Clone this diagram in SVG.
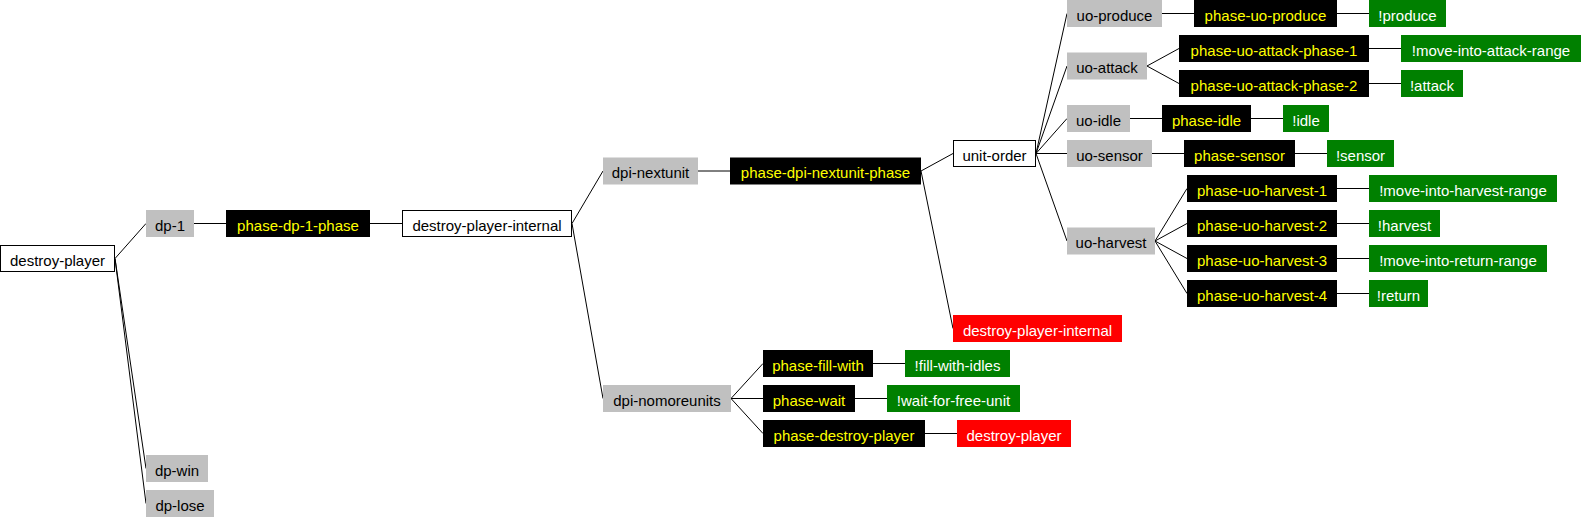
<svg xmlns="http://www.w3.org/2000/svg" width="1582" height="517" viewBox="0 0 1582 517">
<style>
text{font-family:"Liberation Sans",Arial,sans-serif;font-size:15px;text-anchor:middle}
.w rect{fill:#fff;stroke:#000;stroke-width:1}
.w text,.g text{fill:#000}
.g rect{fill:#c0c0c0}
.b rect{fill:#000}
.b text{fill:#ffff00}
.n rect{fill:#008000}
.n text,.r text{fill:#fff}
.r rect{fill:#ff0000}
#connectors path{stroke:#000;stroke-width:1;fill:none}
</style>
<rect width="1582" height="517" fill="#fff"/>
<g id="connectors">
<path d="M115,258.5L146,223.5M115,258.5L146,468.5M115,258.5L146,503.5"/>
<path d="M194,223.5H226M370,223.5H402"/>
<path d="M572,223.5L603,171M572,223.5L603,398.5"/>
<path d="M698,171H730"/>
<path d="M921,171L953,153.5M921,171L953,328.5"/>
<path d="M731,398.5L763,363.5M731,398.5H763M731,398.5L763,433.5"/>
<path d="M873,363.5H905M855,398.5H887M925,433.5H957"/>
<path d="M1036,153.5L1067,13.5M1036,153.5L1067,66M1036,153.5L1067,118.5M1036,153.5H1067M1036,153.5L1067,241"/>
<path d="M1162,13.5H1194M1337,13.5H1369"/>
<path d="M1147,66L1179,48.5M1147,66L1179,83.5M1369,48.5H1401M1369,83.5H1401"/>
<path d="M1130,118.5H1162M1251,118.5H1283"/>
<path d="M1152,153.5H1184M1295,153.5H1327"/>
<path d="M1155,241L1187,188.5M1155,241L1187,223.5M1155,241L1187,258.5M1155,241L1187,293.5"/>
<path d="M1337,188.5H1369M1337,223.5H1369M1337,258.5H1369M1337,293.5H1369"/>
</g>
<g id="n-destroy-player" class="w"><rect x="0.5" y="245.5" width="114" height="26"/><text x="57.5" y="265.5">destroy-player</text></g>
<g id="n-dp-1" class="g"><rect x="146" y="210" width="48" height="27"/><text x="170" y="230.5">dp-1</text></g>
<g id="n-dp-win" class="g"><rect x="146" y="455" width="62" height="27"/><text x="177" y="475.5">dp-win</text></g>
<g id="n-dp-lose" class="g"><rect x="146" y="490" width="68" height="27"/><text x="180" y="510.5">dp-lose</text></g>
<g id="n-phase-dp-1-phase" class="b"><rect x="226" y="210" width="144" height="27"/><text x="298" y="230.5">phase-dp-1-phase</text></g>
<g id="n-destroy-player-internal" class="w"><rect x="402.5" y="210.5" width="169" height="26"/><text x="487" y="230.5">destroy-player-internal</text></g>
<g id="n-dpi-nextunit" class="g"><rect x="603" y="157.5" width="95" height="27"/><text x="650.5" y="178">dpi-nextunit</text></g>
<g id="n-dpi-nomoreunits" class="g"><rect x="603" y="385" width="128" height="27"/><text x="667" y="405.5">dpi-nomoreunits</text></g>
<g id="n-phase-dpi-nextunit-phase" class="b"><rect x="730" y="157.5" width="191" height="27"/><text x="825.5" y="178">phase-dpi-nextunit-phase</text></g>
<g id="n-phase-fill-with" class="b"><rect x="763" y="350" width="110" height="27"/><text x="818" y="370.5">phase-fill-with</text></g>
<g id="n-phase-wait" class="b"><rect x="763" y="385" width="92" height="27"/><text x="809" y="405.5">phase-wait</text></g>
<g id="n-phase-destroy-player" class="b"><rect x="763" y="420" width="162" height="27"/><text x="844" y="440.5">phase-destroy-player</text></g>
<g id="n-fill-with-idles" class="n"><rect x="905" y="350" width="105" height="27"/><text x="957.5" y="370.5">!fill-with-idles</text></g>
<g id="n-wait-for-free-unit" class="n"><rect x="887" y="385" width="133" height="27"/><text x="953.5" y="405.5">!wait-for-free-unit</text></g>
<g id="n-destroy-player-red" class="r"><rect x="957" y="420" width="114" height="27"/><text x="1014" y="440.5">destroy-player</text></g>
<g id="n-unit-order" class="w"><rect x="953.5" y="140.5" width="82" height="26"/><text x="994.5" y="160.5">unit-order</text></g>
<g id="n-destroy-player-internal-red" class="r"><rect x="953" y="315" width="169" height="27"/><text x="1037.5" y="335.5">destroy-player-internal</text></g>
<g id="n-uo-produce" class="g"><rect x="1067" y="0" width="95" height="27"/><text x="1114.5" y="20.5">uo-produce</text></g>
<g id="n-uo-attack" class="g"><rect x="1067" y="52.5" width="80" height="27"/><text x="1107" y="73">uo-attack</text></g>
<g id="n-uo-idle" class="g"><rect x="1067" y="105" width="63" height="27"/><text x="1098.5" y="125.5">uo-idle</text></g>
<g id="n-uo-sensor" class="g"><rect x="1067" y="140" width="85" height="27"/><text x="1109.5" y="160.5">uo-sensor</text></g>
<g id="n-uo-harvest" class="g"><rect x="1067" y="227.5" width="88" height="27"/><text x="1111" y="248">uo-harvest</text></g>
<g id="n-phase-uo-produce" class="b"><rect x="1194" y="0" width="143" height="27"/><text x="1265.5" y="20.5">phase-uo-produce</text></g>
<g id="n-produce" class="n"><rect x="1369" y="0" width="77" height="27"/><text x="1407.5" y="20.5">!produce</text></g>
<g id="n-phase-uo-attack-phase-1" class="b"><rect x="1179" y="35" width="190" height="27"/><text x="1274" y="55.5">phase-uo-attack-phase-1</text></g>
<g id="n-move-into-attack-range" class="n"><rect x="1401" y="35" width="180" height="27"/><text x="1491" y="55.5">!move-into-attack-range</text></g>
<g id="n-phase-uo-attack-phase-2" class="b"><rect x="1179" y="70" width="190" height="27"/><text x="1274" y="90.5">phase-uo-attack-phase-2</text></g>
<g id="n-attack" class="n"><rect x="1401" y="70" width="62" height="27"/><text x="1432" y="90.5">!attack</text></g>
<g id="n-phase-idle" class="b"><rect x="1162" y="105" width="89" height="27"/><text x="1206.5" y="125.5">phase-idle</text></g>
<g id="n-idle" class="n"><rect x="1283" y="105" width="46" height="27"/><text x="1306" y="125.5">!idle</text></g>
<g id="n-phase-sensor" class="b"><rect x="1184" y="140" width="111" height="27"/><text x="1239.5" y="160.5">phase-sensor</text></g>
<g id="n-sensor" class="n"><rect x="1327" y="140" width="67" height="27"/><text x="1360.5" y="160.5">!sensor</text></g>
<g id="n-phase-uo-harvest-1" class="b"><rect x="1187" y="175" width="150" height="27"/><text x="1262" y="195.5">phase-uo-harvest-1</text></g>
<g id="n-move-into-harvest-range" class="n"><rect x="1369" y="175" width="188" height="27"/><text x="1463" y="195.5">!move-into-harvest-range</text></g>
<g id="n-phase-uo-harvest-2" class="b"><rect x="1187" y="210" width="150" height="27"/><text x="1262" y="230.5">phase-uo-harvest-2</text></g>
<g id="n-harvest" class="n"><rect x="1369" y="210" width="71" height="27"/><text x="1404.5" y="230.5">!harvest</text></g>
<g id="n-phase-uo-harvest-3" class="b"><rect x="1187" y="245" width="150" height="27"/><text x="1262" y="265.5">phase-uo-harvest-3</text></g>
<g id="n-move-into-return-range" class="n"><rect x="1369" y="245" width="178" height="27"/><text x="1458" y="265.5">!move-into-return-range</text></g>
<g id="n-phase-uo-harvest-4" class="b"><rect x="1187" y="280" width="150" height="27"/><text x="1262" y="300.5">phase-uo-harvest-4</text></g>
<g id="n-return" class="n"><rect x="1369" y="280" width="59" height="27"/><text x="1398.5" y="300.5">!return</text></g>
</svg>
